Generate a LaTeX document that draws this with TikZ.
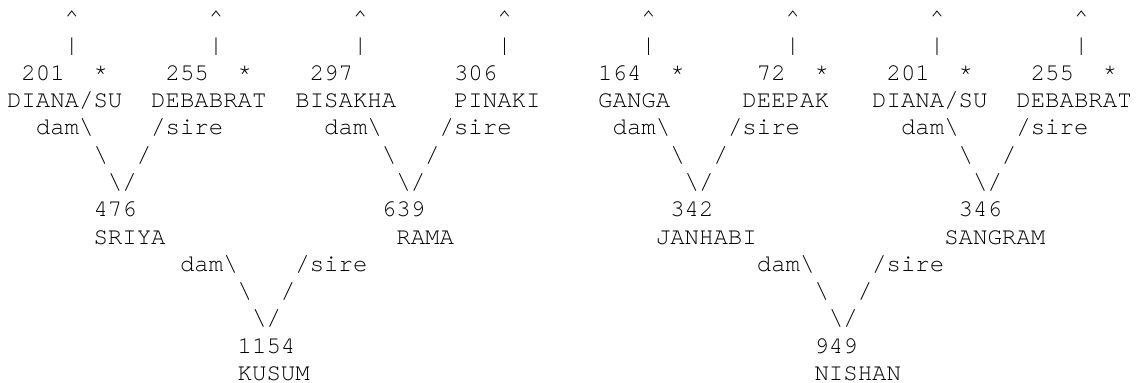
\documentclass[tikz,border=0pt]{standalone}
\usepackage{fontspec}
\newfontfamily\asciimono{texgyrecursor-regular.otf}
\tikzset{
  tok/.style={anchor=base west, inner sep=0pt, outer sep=0pt,
    font=\asciimono\fontsize{12.015pt}{13.65pt}\selectfont, text=black}
}
\newcommand\tok[4]{\node[tok] (#1) at (#2,#3) {#4};}
\newcommand\asciibs{\textbackslash{}}
\newcommand\asciiup{\textasciicircum}
\begin{document}
\begin{tikzpicture}[x=7.21pt, y=-13.65pt]
\useasboundingbox (-3.5pt,12.85pt) rectangle (565pt,-178.65pt);
% row 0: arrows up
\tok{ua}{4}{0}{\asciiup}
\tok{ub}{14}{0}{\asciiup}
\tok{uc}{24}{0}{\asciiup}
\tok{ud}{34}{0}{\asciiup}
\tok{ue}{44}{0}{\asciiup}
\tok{uf}{54}{0}{\asciiup}
\tok{ug}{64}{0}{\asciiup}
\tok{uh}{74}{0}{\asciiup}
% row 1: bars
\tok{va}{4}{1}{|}
\tok{vb}{14}{1}{|}
\tok{vc}{24}{1}{|}
\tok{vd}{34}{1}{|}
\tok{ve}{44}{1}{|}
\tok{vf}{54}{1}{|}
\tok{vg}{64}{1}{|}
\tok{vh}{74}{1}{|}
% row 2: numbers
\tok{na}{1}{2}{201}
\tok{sa}{6}{2}{*}
\tok{nb}{11}{2}{255}
\tok{sb}{16}{2}{*}
\tok{nc}{21}{2}{297}
\tok{nd}{31}{2}{306}
\tok{ne}{41}{2}{164}
\tok{se}{46}{2}{*}
\tok{nf}{52}{2}{72}
\tok{sf}{56}{2}{*}
\tok{ng}{61}{2}{201}
\tok{sg}{66}{2}{*}
\tok{nh}{71}{2}{255}
\tok{sh}{76}{2}{*}
% row 3: names
\tok{ma}{0}{3}{DIANA/SU}
\tok{mb}{10}{3}{DEBABRAT}
\tok{mc}{20}{3}{BISAKHA}
\tok{md}{31}{3}{PINAKI}
\tok{me}{41}{3}{GANGA}
\tok{mf}{51}{3}{DEEPAK}
\tok{mg}{60}{3}{DIANA/SU}
\tok{mh}{70}{3}{DEBABRAT}
% row 4: dam / sire
\tok{da}{2}{4}{dam\asciibs}
\tok{ra}{10}{4}{/sire}
\tok{db}{22}{4}{dam\asciibs}
\tok{rb}{30}{4}{/sire}
\tok{dc}{42}{4}{dam\asciibs}
\tok{rc}{50}{4}{/sire}
\tok{dd}{62}{4}{dam\asciibs}
\tok{rd}{70}{4}{/sire}
% row 5
\tok{la}{6}{5}{\asciibs}
\tok{ka}{9}{5}{/}
\tok{lb}{26}{5}{\asciibs}
\tok{kb}{29}{5}{/}
\tok{lc}{46}{5}{\asciibs}
\tok{kc}{49}{5}{/}
\tok{ld}{66}{5}{\asciibs}
\tok{kd}{69}{5}{/}
% row 6
\tok{wa}{7}{6}{\asciibs/}
\tok{wb}{27}{6}{\asciibs/}
\tok{wc}{47}{6}{\asciibs/}
\tok{wd}{67}{6}{\asciibs/}
% row 7: children numbers
\tok{ca}{6}{7}{476}
\tok{cb}{26}{7}{639}
\tok{cc}{46}{7}{342}
\tok{cd}{66}{7}{346}
% row 8: children names
\tok{ea}{6}{8}{SRIYA}
\tok{eb}{27}{8}{RAMA}
\tok{ec}{45}{8}{JANHABI}
\tok{ed}{65}{8}{SANGRAM}
% row 9
\tok{fa}{12}{9}{dam\asciibs}
\tok{ga}{20}{9}{/sire}
\tok{fb}{52}{9}{dam\asciibs}
\tok{gb}{60}{9}{/sire}
% row 10
\tok{ha}{16}{10}{\asciibs}
\tok{ia}{19}{10}{/}
\tok{hb}{56}{10}{\asciibs}
\tok{ib}{59}{10}{/}
% row 11
\tok{ja}{17}{11}{\asciibs/}
\tok{jb}{57}{11}{\asciibs/}
% row 12-13: offspring
\tok{oa}{16}{12}{1154}
\tok{ob}{56}{12}{949}
\tok{pa}{16}{13}{KUSUM}
\tok{pb}{56}{13}{NISHAN}
\end{tikzpicture}
\end{document}
